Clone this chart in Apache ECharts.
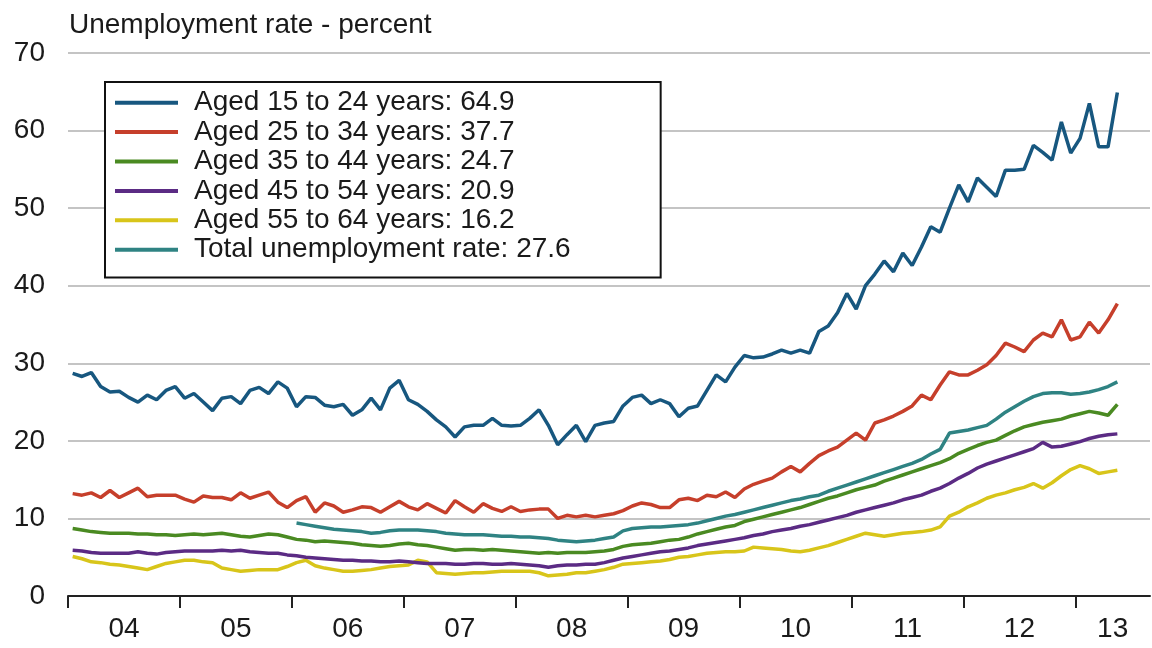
<!DOCTYPE html>
<html>
<head>
<meta charset="utf-8">
<script src="https://cdn.jsdelivr.net/npm/echarts@6/dist/echarts.min.js"></script>
<style>
html,body{margin:0;padding:0;background:#fff;}
#chart{width:1152px;height:648px;}
</style>
</head>
<body>
<div id="chart"></div>
<script>
// Monthly data, Jan 2004 (index 0) to May 2013 (index 112)
const yearLabels = ['04','05','06','07','08','09','10','11','12','13'];
const yearTickMonths = [0,12,24,36,48,60,72,84,96,108];
const yearLabelMonths = [6,18,30,42,54,66,78,90,102,112];

const aged15to24 = [
28.7,28.3,28.8,27.0,26.3,26.4,25.6,25.0,25.9,25.3,26.5,27.0,
25.5,26.1,25.0,23.9,25.5,25.7,24.8,26.5,26.9,26.1,27.6,26.8,
24.4,25.7,25.6,24.6,24.4,24.7,23.3,24.0,25.5,24.0,26.8,27.8,
25.3,24.7,23.8,22.7,21.8,20.5,21.8,22.0,22.0,22.9,22.0,21.9,
22.0,22.9,24.0,22.0,19.5,20.8,22.0,19.9,22.0,22.3,22.5,24.5,
25.6,25.9,24.8,25.3,24.8,23.1,24.2,24.5,26.5,28.5,27.6,29.5,
31.0,30.7,30.8,31.2,31.7,31.3,31.7,31.3,34.1,34.8,36.5,39.0,
37.0,40.0,41.5,43.2,41.8,44.2,42.6,45.0,47.6,46.9,50.0,53.0,
50.8,53.9,52.7,51.5,54.9,54.9,55.0,58.1,57.2,56.2,61.1,57.1,
59.0,63.5,57.9,57.9,64.9];

const aged25to34 = [
13.2,13.0,13.3,12.7,13.6,12.7,13.3,13.9,12.8,13.0,13.0,13.0,
12.5,12.1,12.9,12.7,12.7,12.4,13.3,12.6,13.0,13.4,12.1,11.4,
12.3,12.8,10.8,12.0,11.6,10.8,11.1,11.5,11.4,10.8,11.5,12.2,
11.5,11.1,11.9,11.3,10.7,12.3,11.5,10.8,11.9,11.3,10.9,11.5,
10.9,11.1,11.2,11.2,10.0,10.4,10.2,10.4,10.2,10.4,10.6,11.0,
11.6,12.0,11.8,11.4,11.4,12.4,12.6,12.3,13.0,12.8,13.4,12.7,
13.8,14.4,14.8,15.2,16.0,16.7,16.0,17.1,18.1,18.7,19.2,20.1,
21.0,20.1,22.3,22.7,23.2,23.8,24.5,25.9,25.3,27.2,28.9,28.5,
28.5,29.1,29.8,31.0,32.6,32.1,31.5,33.0,33.9,33.4,35.6,33.0,
33.4,35.3,33.9,35.6,37.7];

const aged35to44 = [
8.7,8.5,8.3,8.2,8.1,8.1,8.1,8.0,8.0,7.9,7.9,7.8,
7.9,8.0,7.9,8.0,8.1,7.9,7.7,7.6,7.8,8.0,7.9,7.6,
7.3,7.2,7.0,7.1,7.0,6.9,6.8,6.6,6.5,6.4,6.5,6.7,
6.8,6.6,6.5,6.3,6.1,5.9,6.0,6.0,5.9,6.0,5.9,5.8,
5.7,5.6,5.5,5.6,5.5,5.6,5.6,5.6,5.7,5.8,6.0,6.4,
6.6,6.7,6.8,7.0,7.2,7.3,7.6,8.0,8.3,8.6,8.9,9.1,
9.6,9.9,10.2,10.5,10.8,11.1,11.4,11.8,12.2,12.6,12.9,13.3,
13.7,14.0,14.3,14.8,15.2,15.6,16.0,16.4,16.8,17.2,17.7,18.4,
18.9,19.4,19.8,20.1,20.7,21.3,21.8,22.1,22.4,22.6,22.8,23.2,
23.5,23.8,23.6,23.3,24.7];

const aged45to54 = [
5.9,5.8,5.6,5.5,5.5,5.5,5.5,5.7,5.5,5.4,5.6,5.7,
5.8,5.8,5.8,5.8,5.9,5.8,5.9,5.7,5.6,5.5,5.5,5.3,
5.2,5.0,4.9,4.8,4.7,4.6,4.6,4.5,4.5,4.4,4.4,4.5,
4.4,4.3,4.2,4.2,4.2,4.1,4.1,4.2,4.2,4.1,4.1,4.2,
4.1,4.0,3.9,3.7,3.9,4.0,4.0,4.1,4.1,4.3,4.6,4.9,
5.1,5.3,5.5,5.7,5.8,6.0,6.2,6.5,6.7,6.9,7.1,7.3,
7.5,7.8,8.0,8.3,8.5,8.7,9.0,9.2,9.5,9.8,10.1,10.4,
10.8,11.1,11.4,11.7,12.0,12.4,12.7,13.0,13.5,13.9,14.5,15.2,
15.8,16.5,17.0,17.4,17.8,18.2,18.6,19.0,19.8,19.2,19.3,19.6,
19.9,20.3,20.6,20.8,20.9];

const aged55to64 = [
5.1,4.8,4.4,4.3,4.1,4.0,3.8,3.6,3.4,3.8,4.2,4.4,
4.6,4.6,4.4,4.3,3.6,3.4,3.2,3.3,3.4,3.4,3.4,3.8,
4.3,4.6,3.9,3.6,3.4,3.2,3.2,3.3,3.4,3.6,3.8,3.9,
4.0,4.6,4.4,3.0,2.9,2.8,2.9,3.0,3.0,3.1,3.2,3.2,
3.2,3.2,3.0,2.6,2.7,2.8,3.0,3.0,3.2,3.4,3.7,4.1,
4.2,4.3,4.4,4.5,4.7,5.0,5.1,5.3,5.5,5.6,5.7,5.7,
5.8,6.3,6.2,6.1,6.0,5.8,5.7,5.9,6.2,6.5,6.9,7.3,
7.7,8.1,7.9,7.7,7.9,8.1,8.2,8.3,8.5,8.9,10.3,10.8,
11.5,12.0,12.6,13.0,13.3,13.7,14.0,14.5,13.9,14.6,15.5,16.3,
16.8,16.4,15.8,16.0,16.2];

// Total rate starts Jan 2006 (index 24)
const totalStartIndex = 24;
const totalRate = [
9.4,9.2,9.0,8.8,8.6,8.5,8.4,8.3,8.1,8.2,8.4,8.5,
8.5,8.5,8.4,8.3,8.1,8.0,7.9,7.9,7.9,7.8,7.7,7.7,
7.6,7.6,7.5,7.4,7.2,7.1,7.0,7.1,7.2,7.4,7.6,8.4,
8.7,8.8,8.9,8.9,9.0,9.1,9.2,9.4,9.7,10.0,10.3,10.5,
10.8,11.1,11.4,11.7,12.0,12.3,12.5,12.8,13.0,13.5,13.9,14.3,
14.7,15.1,15.5,15.9,16.3,16.7,17.1,17.6,18.3,18.9,21.0,21.2,
21.4,21.7,22.0,22.8,23.7,24.4,25.1,25.7,26.1,26.2,26.2,26.0,
26.1,26.3,26.6,27.0,27.6];

const seriesNames = [
  'Aged 15 to 24 years: 64.9',
  'Aged 25 to 34 years: 37.7',
  'Aged 35 to 44 years: 24.7',
  'Aged 45 to 54 years: 20.9',
  'Aged 55 to 64 years: 16.2',
  'Total unemployment rate: 27.6'
];
const seriesColors = ['#17577f','#c63f2b','#4a8a22','#5b2b84','#d8c51a','#2f8383'];

function toPoints(arr, start) {
  return arr.map((v, i) => [start + i + 0.5, v]);
}
const seriesData = [
  toPoints(aged15to24, 0),
  toPoints(aged25to34, 0),
  toPoints(aged35to44, 0),
  toPoints(aged45to54, 0),
  toPoints(aged55to64, 0),
  toPoints(totalRate, totalStartIndex)
];

const FONT = '"Liberation Sans", Arial, sans-serif';
const chart = echarts.init(document.getElementById('chart'));
chart.setOption({
  backgroundColor: '#ffffff',
  animation: false,
  title: {
    text: 'Unemployment rate - percent',
    left: 64, top: 6,
    textStyle: { fontFamily: FONT, fontSize: 28, fontWeight: 'normal', color: '#1a1a1a' }
  },
  grid: { left: 68, right: 2, top: 53, bottom: 52, containLabel: false },
  legend: {
    orient: 'vertical',
    left: 105, top: 82,
    padding: [6, 90, 13, 10],
    itemGap: 0,
    itemWidth: 63, itemHeight: 4,
    icon: 'rect',
    borderColor: '#111', borderWidth: 2,
    backgroundColor: '#ffffff',
    textStyle: { fontFamily: FONT, fontSize: 28, color: '#1a1a1a', lineHeight: 29.4, padding: [0,0,0,11] },
    data: seriesNames
  },
  xAxis: {
    type: 'value', min: 0, max: 116,
    axisLine: { show: true, onZero: false, lineStyle: { color: '#222', width: 2 } },
    axisTick: { show: true, length: 12, inside: false, customValues: yearTickMonths, lineStyle: { color: '#222', width: 2 } },
    axisLabel: {
      show: true, customValues: yearLabelMonths, margin: 19,
      fontFamily: FONT, fontSize: 28, color: '#1a1a1a',
      formatter: function (v) { const k = yearLabelMonths.indexOf(v); return k >= 0 ? yearLabels[k] : ''; }
    },
    splitLine: { show: false }
  },
  yAxis: {
    type: 'value', min: 0, max: 70, interval: 10,
    axisLine: { show: false }, axisTick: { show: false },
    axisLabel: { margin: 23, fontFamily: FONT, fontSize: 28, color: '#1a1a1a' },
    splitLine: { show: true, lineStyle: { color: '#c4c4c4', width: 2 } }
  },
  series: seriesNames.map((name, k) => ({
    name: name,
    type: 'line',
    data: seriesData[k],
    symbol: 'none',
    smooth: false,
    color: seriesColors[k],
    lineStyle: { color: seriesColors[k], width: 3.5 },
    z: 10 - k
  }))
});
</script>
</body>
</html>
